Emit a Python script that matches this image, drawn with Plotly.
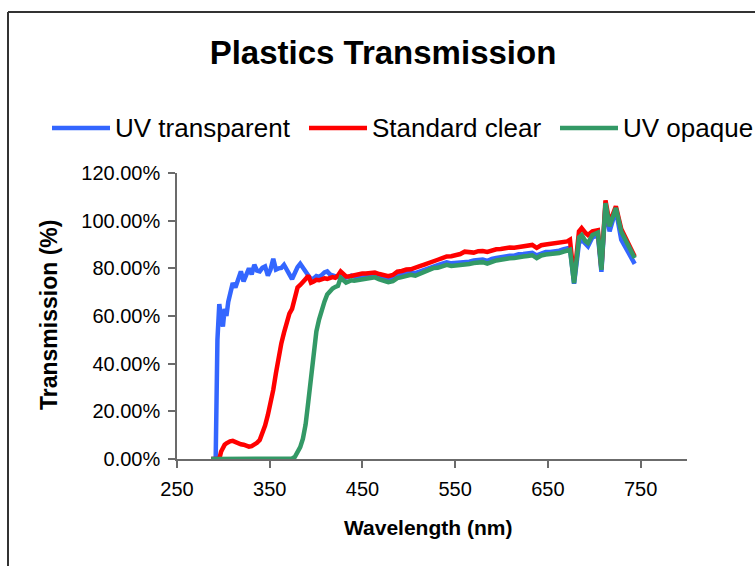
import plotly.graph_objects as go

# Wavelength grid shared by the three spectra (nm)
wavelength_nm = [
    286.9, 289.8, 291.7, 293.6, 295.6, 297.5, 299.5, 301.4, 303.3, 305.3,
    307.2, 310.1, 313.0, 315.9, 318.9, 321.8, 324.7, 327.6, 330.5, 333.4,
    336.3, 339.2, 342.1, 345.0, 348.0, 350.9, 353.8, 356.7, 359.6, 362.5,
    365.4, 368.3, 371.2, 374.1, 377.0, 380.0, 382.9, 385.8, 388.7, 391.6,
    394.5, 397.4, 400.3, 403.2, 406.1, 409.0, 412.0, 414.9, 417.8, 420.7,
    423.6, 426.5, 429.4, 432.3, 435.2, 438.1, 441.1, 444.0, 446.9, 449.8,
    453.7, 458.5, 463.4, 468.2, 473.1, 477.9, 482.8, 487.6, 492.5, 497.3,
    502.1, 507.0, 511.8, 516.7, 521.5, 526.4, 531.2, 536.1, 540.9, 545.8,
    550.6, 555.5, 560.3, 565.2, 570.0, 574.9, 579.7, 584.6, 589.4, 594.3,
    599.1, 604.0, 608.8, 613.7, 618.5, 623.4, 628.2, 633.1, 637.9, 642.8,
    647.6, 652.5, 657.3, 662.2, 667.0,
    670.9, 673.8, 678.2, 683.5, 686.4, 690.3, 693.2, 698.0, 703.9, 707.7,
    712.1, 716.5, 723.3, 729.1, 734.9, 739.7, 743.6,
]

# Transmission in percent
uv_transparent = [
    0, 0, 0, 50, 65, 59, 55.6, 63, 60, 66,
    69.6, 73.8, 72, 76, 78.7, 74.5, 78, 80, 77.5, 81.5,
    79, 78.7, 80.2, 80.8, 77, 79.5, 84, 79.5, 80, 80.2,
    81.5, 79, 77.5, 75.5, 78, 80.5, 81.9, 80.5, 79, 77,
    75.5, 75.8, 76.8, 76.4, 77.2, 78.3, 78.7, 77.5, 77, 76.8,
    76.3, 76.9, 76.6, 76.1, 76.4, 76.9, 76.5, 76.3, 76.8, 77.0,
    76.7, 77.0, 77.2, 76.5, 76.1, 75.3, 75.8, 77.0, 77.4, 77.9,
    78.3, 78.0, 78.7, 79.3, 80.1, 81.1, 81.3, 82.0, 82.5, 82.1,
    82.3, 82.1, 82.6, 82.8, 83.3, 83.5, 83.7, 83.1, 84.0, 84.3,
    84.7, 85.0, 85.3, 85.3, 85.9, 86.0, 86.3, 86.5, 85.4, 86.4,
    86.9, 86.9, 87.1, 87.4, 88.0,
    88.2, 88.6, 73.5, 90.5, 92.0, 90.0, 89.2, 93.0, 94.0, 78.5,
    106.5, 95.5, 104.5, 92.0, 88.0, 85.0, 81.9,
]

standard_clear = [
    0, 0, 0, 0, 0, 3, 5, 6, 6.6, 7.2,
    7.4, 7.6, 7.0, 6.5, 6.2, 6.0, 5.6, 5.2, 5.4, 6.0,
    6.8, 8.0, 10.5, 14, 18.5, 23.5, 29, 36, 43, 48.5,
    53, 58, 61, 63, 68, 72, 73, 74, 75.5, 77,
    74, 74.5, 75.2, 75, 75.5, 75.8, 75.6, 76, 76.3, 76,
    77, 78.7, 77.5, 76.6, 76.6, 76.9, 77, 77.2, 77.7, 77.8,
    77.8, 78.1, 78.2, 77.6, 77.3, 76.7, 77.2, 78.6, 78.9, 79.5,
    79.6, 80.1, 80.9, 81.6, 82.4, 83.2, 83.6, 84.3, 85.0, 85.1,
    85.5, 86.0, 87.0, 86.8, 86.6, 87.2, 87.3, 86.9, 87.6, 88.0,
    88.1, 88.6, 88.7, 88.6, 89.0, 89.3, 89.5, 89.8, 88.6, 89.7,
    90.0, 90.2, 90.3, 90.6, 91.0,
    91.3, 92.0, 75.5, 95.5, 96.9, 95.0, 94.0, 95.5, 96.0, 80.0,
    108.5, 99.0, 106.0, 96.5, 92.0, 88.5, 85.0,
]

uv_opaque = [
    0, 0, 0, 0, 0, 0, 0, 0, 0, 0,
    0, 0, 0, 0, 0, 0, 0, 0, 0, 0,
    0, 0, 0, 0, 0, 0, 0, 0, 0, 0,
    0, 0, 0, 0.2, 0.8, 2.8, 5, 8.5, 14.5, 24,
    35, 47, 53.5, 58.5, 63, 66, 69, 70.6, 71.5, 72.2,
    72.7, 76, 74.8, 74, 74.5, 75, 74.8, 75, 75.2, 75.4,
    75.6, 75.9, 76.2, 75.4, 75.0, 74.2, 74.6, 75.9, 76.3, 76.8,
    77.3, 76.9, 77.6, 78.3, 79.0, 80.1, 80.2, 80.9, 81.5, 81.0,
    81.2, 81.0, 81.5, 81.8, 82.2, 82.5, 82.6, 82.0, 82.9, 83.3,
    83.6, 84.0, 84.2, 84.3, 84.8, 85.0, 85.2, 85.5, 84.3, 85.4,
    85.8, 85.9, 86.0, 86.4, 87.0,
    87.3, 87.8, 73.8, 93.0, 94.0, 91.5, 90.6, 94.0, 95.0, 79.4,
    107.4, 97.6, 105.3, 95.5, 91.0, 87.5, 84.3,
]

series_names = ["UV transparent", "Standard clear", "UV opaque"]
series_colors = ["#3366FF", "#FF0000", "#339966"]
series_values = [uv_transparent, standard_clear, uv_opaque]

x_ticks = [250, 350, 450, 550, 650, 750]
y_ticks = [0, 20, 40, 60, 80, 100, 120]
y_tick_text = [f"{v:.2f}%" for v in y_ticks]

FONT = "Liberation Sans, Arial, Helvetica, sans-serif"
AXIS_GREY = "#6b6b6b"

# Canvas and plot-area geometry (pixels)
W, H = 755, 566
L, R, T, B = 177, 68, 173, 107
PW = W - L - R
PH = H - T - B


def px_x(p):
    return (p - L) / PW


def px_y(p):
    return (H - B - p) / PH


fig = go.Figure()
for name, color, vals in zip(series_names, series_colors, series_values):
    fig.add_trace(go.Scatter(
        x=wavelength_nm, y=vals, mode="lines", name=name,
        line=dict(color=color, width=4.5), showlegend=False,
    ))

shapes = [
    # chart frame (left and top edges)
    dict(type="line", xref="paper", yref="paper",
         x0=px_x(8), x1=px_x(8), y0=px_y(H + 20), y1=px_y(12),
         line=dict(color="#333333", width=2)),
    dict(type="line", xref="paper", yref="paper",
         x0=px_x(8), x1=px_x(W + 20), y0=px_y(12), y1=px_y(12),
         line=dict(color="#333333", width=2)),
]
annotations = []

# Legend row above the plot
legend_y = 128
legend_lines = [(52, 110), (309, 367), (560, 618)]
legend_text_left = [113, 370, 621]
for name, color, (a, b), tx in zip(series_names, series_colors, legend_lines, legend_text_left):
    shapes.append(dict(type="line", xref="paper", yref="paper",
                       x0=px_x(a), x1=px_x(b), y0=px_y(legend_y), y1=px_y(legend_y),
                       line=dict(color=color, width=4.5)))
    annotations.append(dict(xref="paper", yref="paper", x=px_x(tx), y=px_y(legend_y),
                            xanchor="left", yanchor="middle", showarrow=False,
                            text=name, font=dict(family=FONT, size=26, color="black")))

# Axis titles
annotations.append(dict(xref="paper", yref="paper", x=px_x(428), y=px_y(527),
                        xanchor="center", yanchor="middle", showarrow=False,
                        text="<b>Wavelength (nm)</b>",
                        font=dict(family=FONT, size=21, color="black")))
annotations.append(dict(xref="paper", yref="paper", x=px_x(49), y=px_y(315),
                        xanchor="center", yanchor="middle", showarrow=False,
                        textangle=-90, text="<b>Transmission (%)</b>",
                        font=dict(family=FONT, size=23, color="black")))

fig.update_layout(
    width=W, height=H,
    margin=dict(l=L, r=R, t=T, b=B),
    paper_bgcolor="white", plot_bgcolor="white",
    title=dict(text="<b>Plastics Transmission</b>", x=383 / W, y=1 - 52 / H,
               xref="container", yref="container",
               xanchor="center", yanchor="middle",
               font=dict(family=FONT, size=33, color="black")),
    shapes=shapes, annotations=annotations,
    showlegend=False,
)
fig.update_xaxes(
    range=[250, 800], tickvals=x_ticks, ticks="outside", ticklen=7,
    tickcolor=AXIS_GREY, tickwidth=1.5, showline=True, linecolor=AXIS_GREY,
    linewidth=1.5, showgrid=False, zeroline=False, ticklabelstandoff=4,
    tickfont=dict(family=FONT, size=20, color="black"),
)
fig.update_yaxes(
    range=[0, 120], tickvals=y_ticks, ticktext=y_tick_text, ticks="outside",
    ticklen=7, tickcolor=AXIS_GREY, tickwidth=1.5, showline=True,
    linecolor=AXIS_GREY, linewidth=1.5, showgrid=False, zeroline=False,
    ticklabelstandoff=4,
    tickfont=dict(family=FONT, size=20, color="black"),
)

fig.write_html("out.html")
